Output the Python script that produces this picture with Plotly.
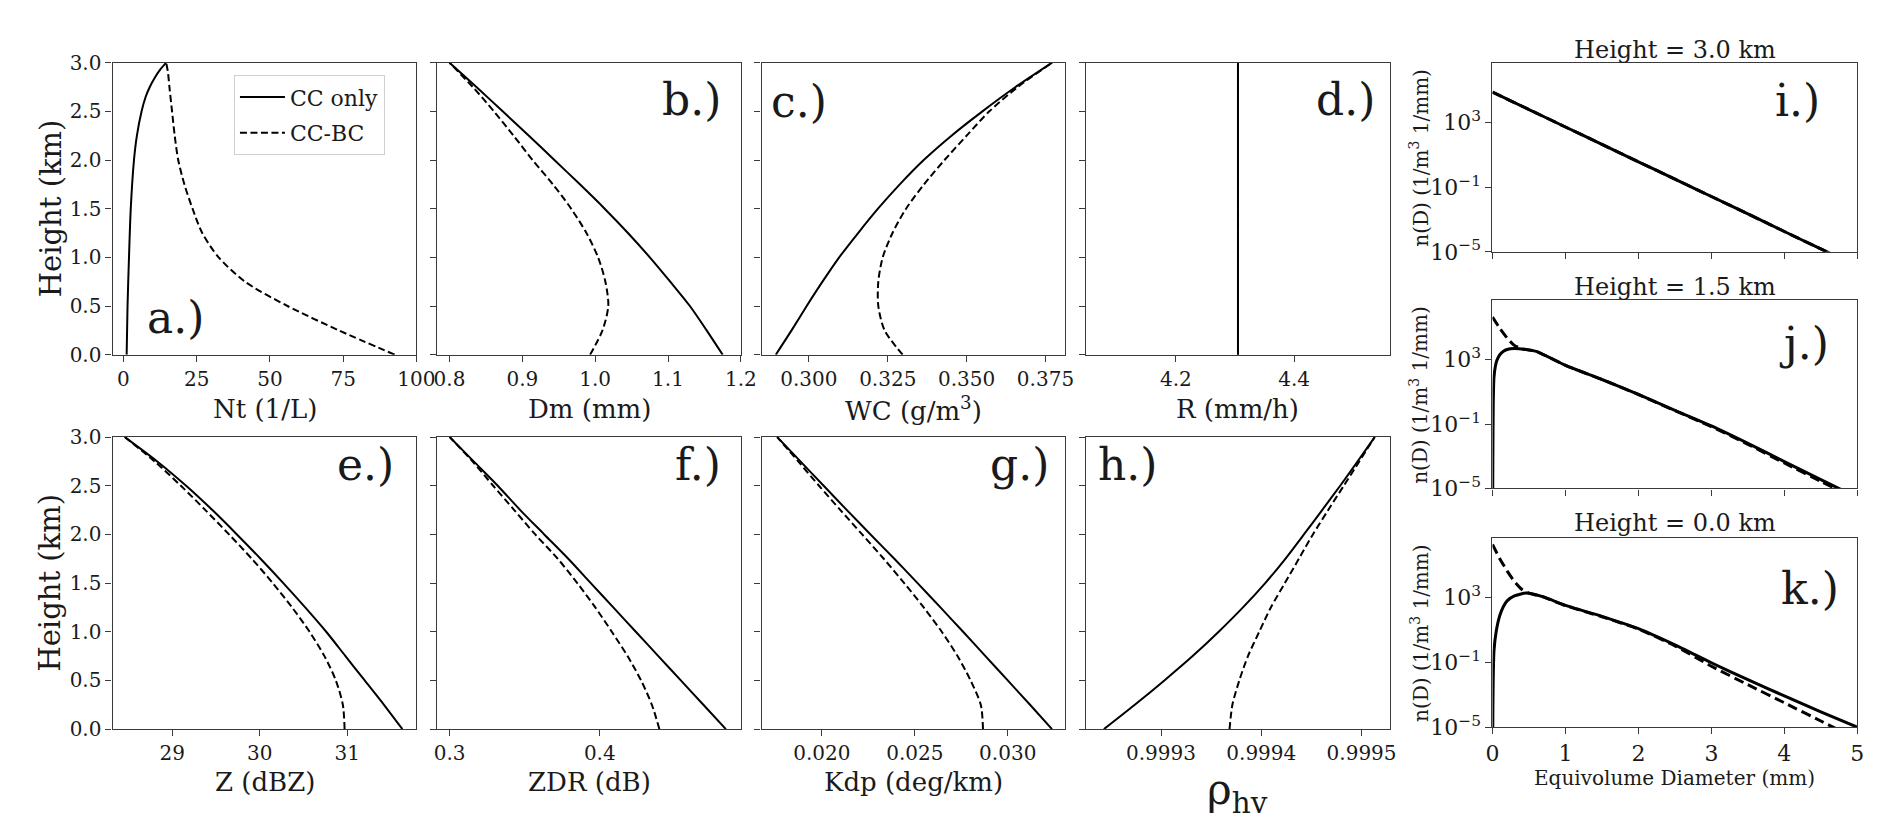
import plotly.graph_objects as go

# ---- vertical profiles, height in km ----
height_km = [0.0, 0.25, 0.5, 0.75, 1.0, 1.25, 1.5, 1.75, 2.0, 2.25, 2.5, 2.75, 3.0]

nt_cc_height = [0.0, 0.5, 1.0, 1.5, 2.0, 2.25, 2.5, 2.65, 2.75, 2.85, 2.93, 3.0]
nt_cc = [1.1, 1.4, 1.9, 2.5, 3.6, 4.6, 6.2, 7.6, 9.0, 10.8, 12.6, 14.6]
nt_ccbc_height = [0.0, 0.25, 0.5, 0.75, 1.0, 1.25, 1.5, 1.75, 2.0, 2.25, 2.5, 2.75, 2.9, 3.0]
nt_ccbc = [92.6, 73.5, 56.0, 41.5, 32.5, 26.9, 23.6, 20.8, 18.7, 17.5, 16.6, 15.7, 15.2, 14.6]

dm_cc = [1.175, 1.153, 1.130, 1.103, 1.075, 1.045, 1.013, 0.979, 0.944, 0.909, 0.873, 0.837, 0.800]
dm_ccbc = [0.993, 1.010, 1.018, 1.014, 1.004, 0.988, 0.967, 0.942, 0.914, 0.888, 0.861, 0.832, 0.800]

wc_cc = [0.2895, 0.2945, 0.2993, 0.3043, 0.3096, 0.3156, 0.3219, 0.3288, 0.3364, 0.3452, 0.3550, 0.3655, 0.3771]
wc_ccbc = [0.3297, 0.3240, 0.3220, 0.3220, 0.3234, 0.3265, 0.3308, 0.3365, 0.3430, 0.3500, 0.3572, 0.3662, 0.3771]

rain_height = [0.0, 3.0]
rain_cc = [4.305, 4.305]
rain_ccbc = [4.305, 4.305]

z_cc = [31.63, 31.42, 31.20, 30.98, 30.76, 30.52, 30.27, 30.01, 29.74, 29.46, 29.16, 28.83, 28.46]
z_ccbc = [30.97, 30.95, 30.87, 30.74, 30.57, 30.37, 30.15, 29.91, 29.65, 29.38, 29.10, 28.80, 28.46]

zdr_cc = [0.484, 0.469, 0.454, 0.439, 0.424, 0.409, 0.394, 0.379, 0.363, 0.347, 0.332, 0.316, 0.300]
zdr_ccbc = [0.4397, 0.4347, 0.4275, 0.4185, 0.408, 0.397, 0.385, 0.372, 0.357, 0.343, 0.329, 0.3152, 0.300]

kdp_cc = [0.03238, 0.03120, 0.03000, 0.02880, 0.02760, 0.02638, 0.02515, 0.02390, 0.02262, 0.02135, 0.02010, 0.01885, 0.01760]
kdp_ccbc = [0.02867, 0.02855, 0.02800, 0.02730, 0.02645, 0.02548, 0.02443, 0.02333, 0.02217, 0.02100, 0.01985, 0.01873, 0.01760]

rhohv_cc = [0.99924307, 0.99927385, 0.99930334, 0.99933156, 0.99935752, 0.99938171, 0.99940393,
            0.99942399, 0.99944248, 0.99946067, 0.99947866, 0.99949607, 0.99951308]
rhohv_ccbc = [0.99936834, 0.99937119, 0.99937807, 0.99938673, 0.99939794, 0.99940954, 0.99942350,
              0.99943746, 0.99945143, 0.99946667, 0.99948220, 0.99949774, 0.99951308]

# ---- drop size distributions, D in mm, n(D) in 1/m3 1/mm ----
dsd_top_d = [0.0, 0.5, 1.0, 1.5, 2.0, 2.5, 3.0, 3.5, 4.0, 4.5, 5.0]
dsd_top_cc = [7.2e4, 6.1e3, 5.1e2, 43.0, 3.6, 0.31, 2.6e-2, 2.2e-3, 1.8e-4, 1.5e-5, 1.3e-6]
dsd_top_ccbc = [7.2e4, 6.1e3, 5.1e2, 43.0, 3.6, 0.31, 2.6e-2, 2.2e-3, 1.8e-4, 1.5e-5, 1.3e-6]

dsd_mid_cc_d = [0.002, 0.005, 0.01, 0.02, 0.04, 0.06, 0.1, 0.15, 0.2, 0.3, 0.4, 0.6,
                1.0, 1.5, 2.0, 2.5, 3.0, 3.5, 4.0, 4.5, 5.0]
dsd_mid_cc = [1e-6, 1e-3, 1.6, 79, 400, 890, 2000, 3300, 4200, 4800, 4600, 3200,
              440, 58, 6.9, 0.71, 0.076, 6.3e-3, 4.7e-4, 3.5e-5, 2.8e-6]
dsd_mid_ccbc_d = [0.0, 0.1, 0.2, 0.3, 0.4, 0.6, 1.0, 1.5, 2.0, 2.5, 3.0, 3.5, 4.0, 4.5, 5.0]
dsd_mid_ccbc = [4.4e5, 8.7e4, 2.2e4, 7600, 4700, 3200, 440, 58, 6.8, 0.68, 0.069, 5.5e-3, 3.8e-4, 2.75e-5, 2.1e-6]

dsd_low_cc_d = [0.003, 0.005, 0.01, 0.02, 0.05, 0.1, 0.15, 0.2, 0.3, 0.46, 0.7,
                1.0, 1.5, 2.0, 2.5, 3.0, 3.5, 4.0, 4.5, 5.0]
dsd_low_cc = [1e-6, 1e-4, 1e-2, 0.5, 7.9, 79, 280, 630, 1260, 1900, 1100,
              330, 70, 12, 1.2, 0.095, 8.5e-3, 8.5e-4, 8.9e-5, 1.0e-5]
dsd_low_ccbc_d = [0.0, 0.1, 0.2, 0.3, 0.4, 0.5, 0.7, 1.0, 1.5, 2.0, 2.5, 3.0, 3.5, 4.0, 4.5, 5.0]
dsd_low_ccbc = [1.9e6, 2.5e5, 4.5e4, 1.0e4, 3300, 1900, 1080, 320, 66, 11.5, 1.05, 0.058, 4.2e-3, 3.2e-4, 2.4e-5, 1.8e-6]

FONT = "DejaVu Serif"
TXT = "#1a1a1a"
AXC = "#3a3a3a"
W, H = 1892, 833

fig = go.Figure()


def ax_id(n, letter):
    return letter if n == 1 else f"{letter}{n}"


def add_pair(n, xcc, ycc, xbc, ybc, width=2.0, dash="7px,3.5px", legend=False, smooth=0.8):
    shape = dict(shape="spline", smoothing=smooth)
    fig.add_trace(go.Scatter(x=xcc, y=ycc, xaxis=ax_id(n, "x"), yaxis=ax_id(n, "y"), mode="lines",
                             line=dict(color="black", width=width, **shape), name="CC only",
                             showlegend=legend, legendgroup="cc", hoverinfo="skip"))
    fig.add_trace(go.Scatter(x=xbc, y=ybc, xaxis=ax_id(n, "x"), yaxis=ax_id(n, "y"), mode="lines",
                             line=dict(color="black", width=width, dash=dash, **shape), name="CC-BC",
                             showlegend=legend, legendgroup="bc", hoverinfo="skip"))


add_pair(1, nt_cc, nt_cc_height, nt_ccbc, nt_ccbc_height, legend=True)
add_pair(2, dm_cc, height_km, dm_ccbc, height_km)
add_pair(3, wc_cc, height_km, wc_ccbc, height_km)
add_pair(4, rain_cc, rain_height, rain_ccbc, rain_height)
add_pair(5, z_cc, height_km, z_ccbc, height_km)
add_pair(6, zdr_cc, height_km, zdr_ccbc, height_km)
add_pair(7, kdp_cc, height_km, kdp_ccbc, height_km)
add_pair(8, rhohv_cc, height_km, rhohv_ccbc, height_km)
add_pair(9, dsd_top_d, dsd_top_cc, dsd_top_d, dsd_top_ccbc, width=3, dash="10px,5px", smooth=0.5)
add_pair(10, dsd_mid_cc_d, dsd_mid_cc, dsd_mid_ccbc_d, dsd_mid_ccbc, width=3, dash="10px,5px", smooth=0.5)
add_pair(11, dsd_low_cc_d, dsd_low_cc, dsd_low_ccbc_d, dsd_low_ccbc, width=3, dash="10px,5px", smooth=0.5)

base = dict(showline=True, mirror=True, linecolor=AXC, linewidth=1.3, ticks="outside", ticklen=6,
            tickwidth=1.3, tickcolor=AXC, showgrid=False, zeroline=False, fixedrange=True,
            tickfont=dict(family=FONT, size=20, color=TXT))

left_x = [[0.0523, 0.2151], [0.2262, 0.3890], [0.4001, 0.5629], [0.5740, 0.7368]]
row_y = [[0.5858, 0.9472], [0.1224, 0.4838]]
x_ranges = [[-3.7, 100], [0.783, 1.2], [0.285, 0.3813], [4.048, 4.562],
            [28.32, 31.79], [0.2916, 0.494], [0.01676, 0.0331], [0.99922527, 0.99952822]]
x_ticks = [[0, 25, 50, 75, 100], [0.8, 0.9, 1.0, 1.1, 1.2], [0.300, 0.325, 0.350, 0.375], [4.2, 4.4],
           [29, 30, 31], [0.3, 0.4], [0.020, 0.025, 0.030], [0.9993, 0.9994, 0.9995]]
x_fmt = ["d", ".1f", ".3f", ".1f", "d", ".1f", ".3f", ".4f"]

layout = {}
for i in range(8):
    n = i + 1
    row, col = divmod(i, 4)
    layout[ax_id(n, "xaxis")] = dict(base, domain=left_x[col], anchor=ax_id(n, "y"), range=x_ranges[i],
                                     tickvals=x_ticks[i], tickformat=x_fmt[i])
    layout[ax_id(n, "yaxis")] = dict(base, domain=row_y[row], anchor=ax_id(n, "x"), range=[0, 3],
                                     tickvals=[0, 0.5, 1.0, 1.5, 2.0, 2.5, 3.0], tickformat=".1f",
                                     showticklabels=(col == 0))

right_x = [0.7918, 0.9873]
right_y = [[0.7131, 0.9472], [0.4202, 0.6531], [0.1248, 0.3589]]
for j in range(3):
    n = 9 + j
    layout[ax_id(n, "xaxis")] = dict(base, domain=right_x, anchor=ax_id(n, "y"), range=[0, 5],
                                     tickvals=[0, 1, 2, 3, 4, 5], showticklabels=(j == 2),
                                     tickfont=dict(family=FONT, size=22, color=TXT))
    layout[ax_id(n, "yaxis")] = dict(base, domain=right_y[j], anchor=ax_id(n, "x"), type="log",
                                     range=[-5, 6.68], tickvals=[1e-5, 1e-1, 1e3],
                                     ticktext=["10<sup>−5</sup>", "10<sup>−1</sup>", "10<sup>3</sup>"],
                                     tickfont=dict(family=FONT, size=22, color=TXT))

fig.update_layout(**layout)


def px(x, y):
    return x / W, 1 - y / H


notes = []


def note(text, x, y, size, angle=0, family=FONT):
    xp, yp = px(x, y)
    notes.append(dict(text=text, x=xp, y=yp, xref="paper", yref="paper", showarrow=False,
                      xanchor="center", yanchor="middle", textangle=angle,
                      font=dict(family=family, size=size, color=TXT)))


# axis titles
row1_titles = ["Nt (1/L)", "Dm (mm)", "WC (g/m<sup>3</sup>)", "R (mm/h)"]
row2_titles = ["Z (dBZ)", "ZDR (dB)", "Kdp (deg/km)"]
centres = [253, 582, 911, 1240]
for c, t in zip(centres, row1_titles):
    note(t, c, 401, 26)
for c, t in zip(centres, row2_titles):
    note(t, c, 786, 26)
note("ρ<sub>hv</sub>", 1240, 796, 42)
note("Height (km)", 36, 194.5, 29, angle=-90)
note("Height (km)", 36, 580.5, 29, angle=-90)

for yc in [141.5, 386, 631.5]:
    note("n(D) (1/m<sup>3</sup> 1/mm)", 1424, yc, 20, angle=-90)
for t, yc in [("Height = 3.0 km", 31), ("Height = 1.5 km", 275), ("Height = 0.0 km", 519)]:
    note(t, 1683, yc, 24)
note("Equivolume Diameter (mm)", 1683, 781, 20)

# panel letters
letters = [("a.)", 163, 307), ("b.)", 686, 82), ("c.)", 795, 84), ("d.)", 1349, 82),
           ("e.)", 355, 458), ("f.)", 693, 458), ("g.)", 1019, 458), ("h.)", 1129, 458),
           ("i.)", 1807, 83), ("j.)", 1814, 333), ("k.)", 1820, 586)]
for t, x, y in letters:
    note(t, x, y, 44)

fig.update_layout(
    annotations=notes,
    width=W, height=H,
    margin=dict(l=0, r=0, t=0, b=0),
    paper_bgcolor="white", plot_bgcolor="white",
    font=dict(family=FONT, color=TXT),
    legend=dict(x=222 / W, y=1 - 57 / H, xanchor="left", yanchor="top",
                bgcolor="white", bordercolor="#d0d0d0", borderwidth=1,
                font=dict(family=FONT, size=22, color=TXT), itemwidth=45,
                tracegroupgap=4),
)

fig.write_html("out.html")
